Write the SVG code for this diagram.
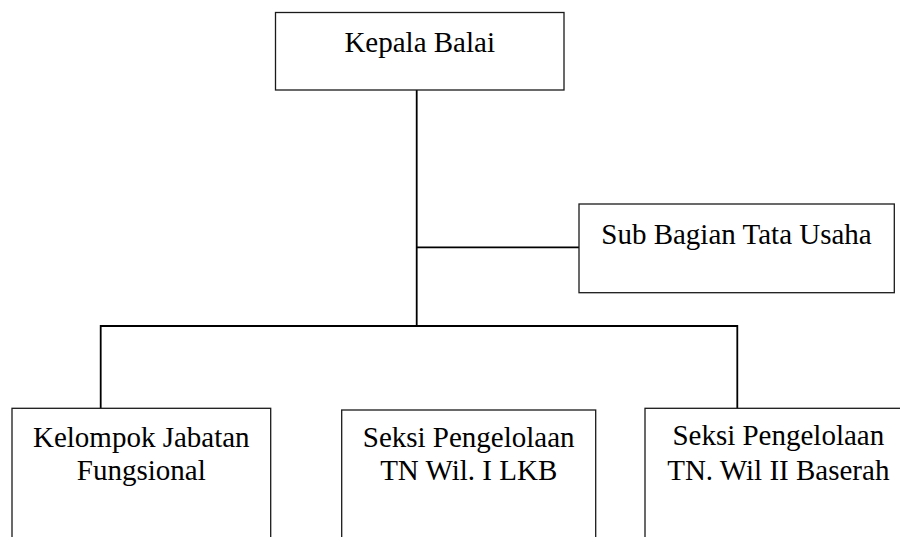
<svg xmlns="http://www.w3.org/2000/svg" width="900" height="537" viewBox="0 0 900 537">
<style>
.box{fill:#fff;stroke:#1a1a1a;stroke-width:1.3}
.t{font-family:"Liberation Serif","Times New Roman",serif;font-size:29px;fill:#000;text-anchor:middle}
.c{stroke:#000;stroke-width:1.8;fill:none}
</style>
<rect width="900" height="537" fill="#fff"/>
<g id="connectors">
<path class="c" d="M416.7 90 V326"/>
<path class="c" d="M416.7 247.3 H579"/>
<path class="c" d="M100.7 408.3 V326 H737.3 V408.3"/>
</g>
<g id="kepala-balai">
<rect class="box" x="275.5" y="12.5" width="288.5" height="77.5"/>
<text class="t" x="419.7" y="51.7">Kepala Balai</text>
</g>
<g id="sub-bagian">
<rect class="box" x="579" y="204" width="315.3" height="88.7"/>
<text class="t" x="736.5" y="244">Sub Bagian Tata Usaha</text>
</g>
<g id="kelompok">
<rect class="box" x="12" y="408.3" width="258.7" height="140"/>
<text class="t" x="141.3" y="446.7">Kelompok Jabatan</text>
<text class="t" x="141.3" y="480">Fungsional</text>
</g>
<g id="seksi-1">
<rect class="box" x="341.7" y="410" width="254" height="140"/>
<text class="t" x="468.7" y="446.7">Seksi Pengelolaan</text>
<text class="t" x="468.7" y="480">TN Wil. I LKB</text>
</g>
<g id="seksi-2">
<rect class="box" x="645" y="408.3" width="266.7" height="140"/>
<text class="t" x="778.3" y="445">Seksi Pengelolaan</text>
<text class="t" x="778.3" y="480">TN. Wil II Baserah</text>
</g>
</svg>
